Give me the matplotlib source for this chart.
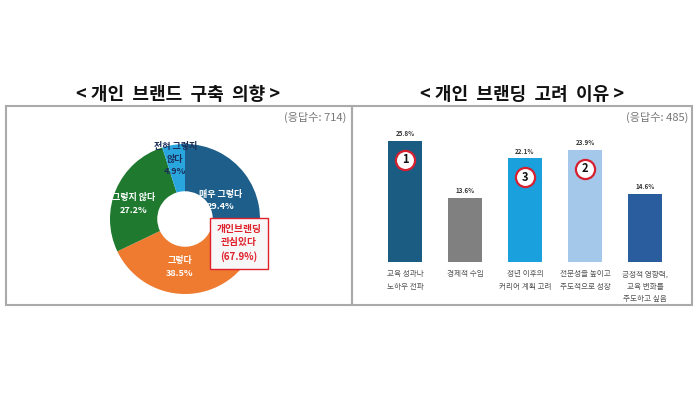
import matplotlib.pyplot as plt
from matplotlib.patches import Rectangle

plt.rcParams['font.family'] = ['Noto Sans CJK KR', 'DejaVu Sans']

# 왼쪽: 개인 브랜드 구축 의향
pie_labels = ['매우 그렇다', '그렇다', '그렇지 않다', '전혀 그렇지\n않다']
pie_values = [29.4, 38.5, 27.2, 4.9]
pie_colors = ['#1d5f8a', '#ee7b30', '#1f7a30', '#2aa6df']
n_left = 714

# 오른쪽: 개인 브랜딩 고려 이유
bar_labels = ['교육 성과나\n노하우 전파', '경제적 수입', '정년 이후의\n커리어 계획 고려',
              '전문성을 높이고\n주도적으로 성장', '긍정적 영향력,\n교육 변화를\n주도하고 싶음']
bar_values = [25.8, 13.6, 22.1, 23.9, 14.6]
bar_colors = ['#1a5c82', '#808080', '#1aa1dd', '#a4c8ea', '#2a5d9e']
ranks = {0: '1', 3: '2', 2: '3'}
n_right = 485

W, H = 699, 393
fig = plt.figure(figsize=(W / 100, H / 100), dpi=100)

def fx(px):
    return px / W

def fy(py):
    return 1 - py / H

# 바깥 상자
for x0, x1 in [(6, 352), (352, 692)]:
    fig.add_artist(Rectangle((fx(x0), fy(305)), fx(x1 - x0), (305 - 106) / H,
                             transform=fig.transFigure, fill=False,
                             edgecolor='#aaaaaa', linewidth=1.5))

fig.text(fx(178), fy(95), '< 개인  브랜드  구축  의향 >', ha='center', va='center',
         fontsize=13, fontweight='bold', color='#111111')
fig.text(fx(522), fy(95), '< 개인  브랜딩  고려  이유 >', ha='center', va='center',
         fontsize=13, fontweight='bold', color='#111111')
fig.text(fx(346), fy(117), f'(응답수: {n_left})', ha='right', va='center',
         fontsize=8, color='#777777')
fig.text(fx(688), fy(117), f'(응답수: {n_right})', ha='right', va='center',
         fontsize=8, color='#777777')

# 도넛 차트
cx, cy, r = 185, 219, 75
half = 85
ax1 = fig.add_axes([fx(cx - half), fy(cy + half), 2 * half / W, 2 * half / H])
ax1.pie(pie_values, colors=pie_colors, startangle=90, counterclock=False,
        radius=1, wedgeprops=dict(width=0.63, edgecolor='none'))
lim = half / r
ax1.set_xlim(-lim, lim)
ax1.set_ylim(-lim, lim)
ax1.set_aspect('equal')
ax1.axis('off')

label_pos = [(0.47, 0.25), (-0.07, -0.64), (-0.69, 0.2), (-0.13, 0.8)]
for i, (lab, v) in enumerate(zip(pie_labels, pie_values)):
    x, y = label_pos[i]
    col = 'white' if i < 3 else '#1b2f5a'
    ax1.text(x, y, f'{lab}\n{v}%', ha='center', va='center', fontsize=6.5,
             fontweight='bold', color=col, linespacing=1.5)

ax1.text(0.72, -0.32, f'개인브랜딩\n관심있다\n({pie_values[0] + pie_values[1]:.1f}%)',
         ha='center', va='center', fontsize=7, fontweight='bold', color='#e0202a',
         linespacing=1.4,
         bbox=dict(boxstyle='square,pad=0.7', facecolor='#f7f7f7', edgecolor='#e0202a', linewidth=1))

# 막대 차트
base = 262
scale = 4.69
ax2 = fig.add_axes([fx(375), fy(base), fx(300), 30 * scale / H])
x = range(len(bar_values))
ax2.bar(x, bar_values, width=0.57, color=bar_colors)
ax2.set_xlim(-0.5, 4.5)
ax2.set_ylim(0, 30)
for i, v in enumerate(bar_values):
    ax2.text(i, v + 0.8, f'{v}%', ha='center', va='bottom', fontsize=4.5,
             fontweight='bold', color='#333333')
for i, num in ranks.items():
    y = bar_values[i] - 4
    ax2.scatter(i, y, s=190, facecolor='white', edgecolor='#d62030', linewidth=1.6, zorder=3)
    ax2.text(i, y, num, ha='center', va='center', fontsize=8, fontweight='bold',
             color='#111111', zorder=4)
ax2.set_xticks(list(x))
ax2.set_xticklabels(bar_labels, fontsize=5.5, color='#555555', linespacing=1.7)
ax2.tick_params(axis='x', length=0, pad=6)
ax2.set_yticks([])
for s in ax2.spines.values():
    s.set_visible(False)

plt.savefig('out.png', dpi=100)
